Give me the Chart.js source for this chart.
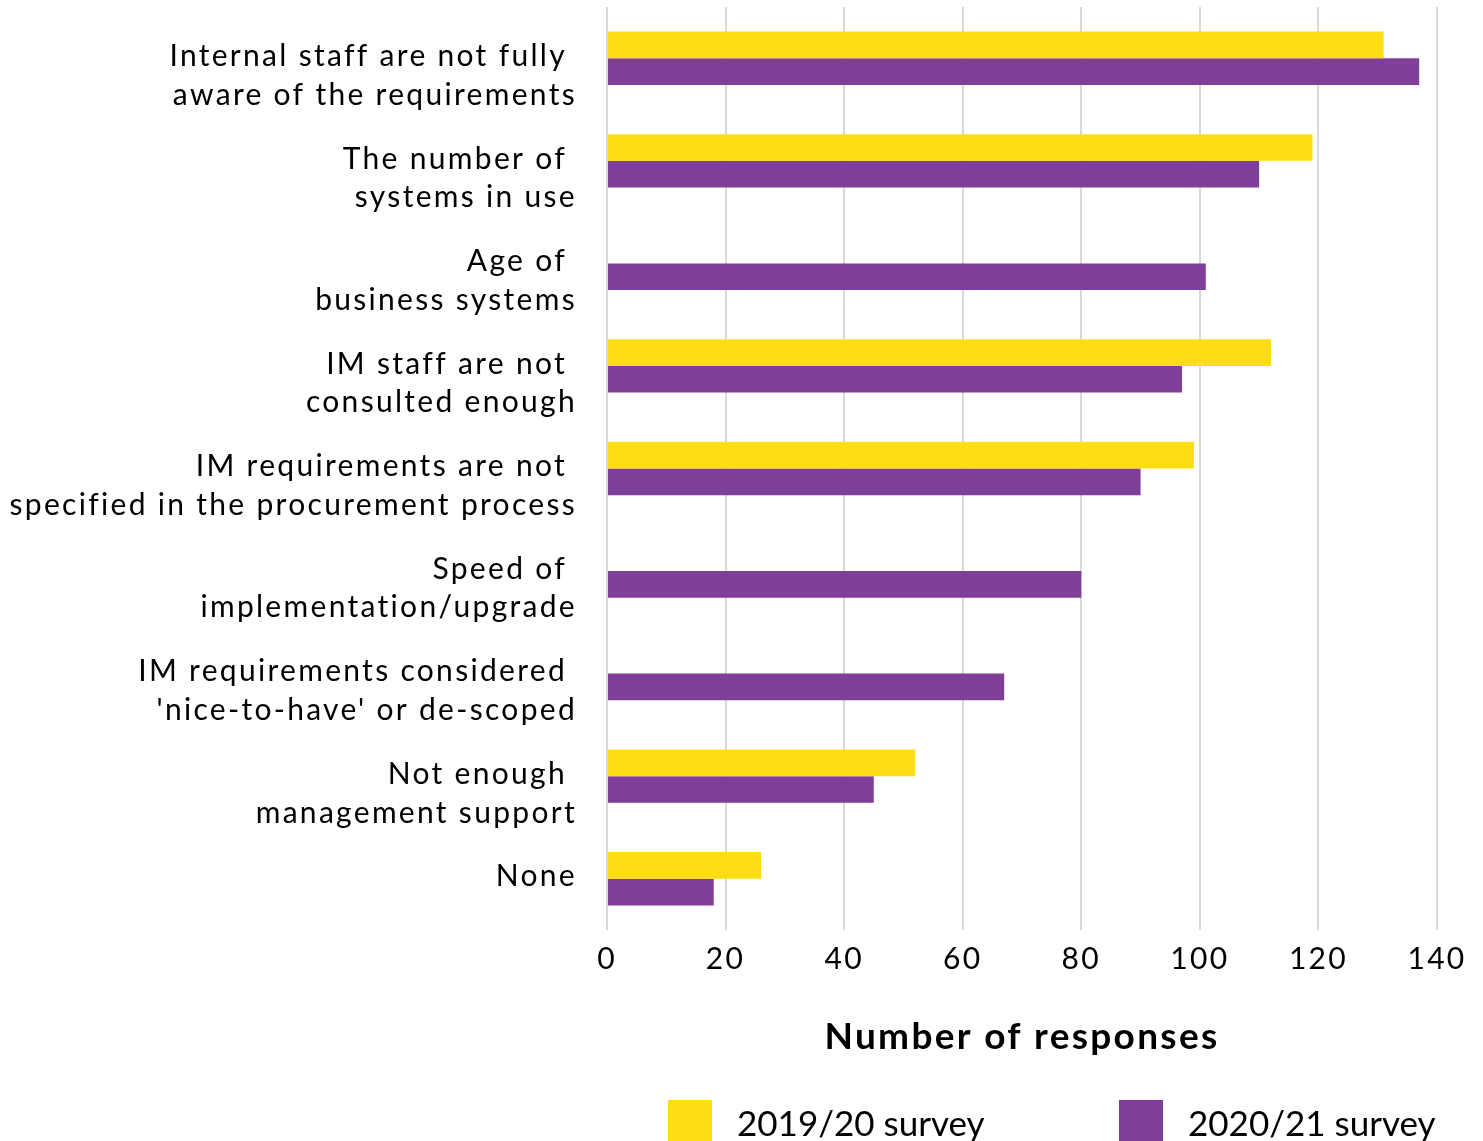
<!DOCTYPE html>
<html>
<head>
<meta charset="utf-8">
<title>Barriers to meeting IM requirements</title>
<script src="https://cdn.jsdelivr.net/npm/chart.js@4/dist/chart.umd.min.js"></script>
<style>
  html, body { margin: 0; padding: 0; background: #ffffff; overflow: hidden; }
  #wrap { width: 1483px; height: 1141px; position: relative; }
</style>
</head>
<body>
<div id="wrap"><canvas id="chart" width="1483" height="1141"></canvas></div>
<script>
// Response categories (first line carries a trailing space, as set in the source layout)
const categories = [
  ["", "Internal staff are not fully ", "aware of the requirements"],
  ["", "The number of ", "systems in use"],
  ["", "Age of ", "business systems"],
  ["", "IM staff are not ", "consulted enough"],
  ["", "IM requirements are not ", "specified in the procurement process"],
  ["", "Speed of ", "implementation/upgrade"],
  ["", "IM requirements considered ", "'nice-to-have' or de-scoped"],
  ["", "Not enough ", "management support"],
  ["None"]
];

const seriesNames = ["2019/20 survey", "2020/21 survey"];
const survey2019 = [131, 119, null, 112, 99, null, null, 52, 26];
const survey2020 = [137, 110, 101, 97, 90, 80, 67, 45, 18];

const xTicks = [0, 20, 40, 60, 80, 100, 120, 140];
const axisTitle = "Number of responses";

const YELLOW = "#FFDD15";
const PURPLE = "#7F3F98";
const FONT = "Lato, 'Open Sans', sans-serif";

// Slightly open tracking for the axis text
const tracking = {
  id: "tracking",
  beforeDraw(chart, args, opts) { chart.ctx.letterSpacing = opts.spacing; },
  afterDraw(chart) { chart.ctx.letterSpacing = "0px"; }
};

// Legend drawn underneath the axis title, two widely spaced entries
const bottomLegend = {
  id: "bottomLegend",
  afterDraw(chart, args, opts) {
    const ctx = chart.ctx;
    const left = chart.chartArea.left;
    ctx.save();
    ctx.letterSpacing = "0px";
    chart.data.datasets.forEach((ds, i) => {
      const bx = left + opts.offsets[i];
      ctx.fillStyle = ds.backgroundColor;
      ctx.fillRect(bx, opts.top, opts.box, opts.box);
      ctx.fillStyle = "#000000";
      ctx.font = opts.size + "px " + FONT;
      ctx.textAlign = "left";
      ctx.textBaseline = "alphabetic";
      ctx.fillText(ds.label, bx + opts.box + opts.gap, opts.baseline);
    });
    ctx.restore();
  }
};

new Chart(document.getElementById("chart"), {
  type: "bar",
  data: {
    labels: categories,
    datasets: [
      { label: seriesNames[0], data: survey2019, backgroundColor: YELLOW },
      { label: seriesNames[1], data: survey2020, backgroundColor: PURPLE }
    ]
  },
  options: {
    indexAxis: "y",
    responsive: false,
    devicePixelRatio: 1,
    animation: false,
    datasets: { bar: { categoryPercentage: 0.52, barPercentage: 1.0 } },
    layout: { padding: { top: 7, right: 46, bottom: 0, left: 0 } },
    plugins: {
      legend: { display: false },
      tooltip: { enabled: false },
      tracking: { spacing: "2.3px" },
      bottomLegend: { offsets: [61, 512], top: 1100, box: 44, gap: 25, baseline: 1136, size: 35 }
    },
    scales: {
      x: {
        min: 0,
        max: 140,
        afterBuildTicks: (scale) => { scale.ticks = xTicks.map(v => ({ value: v })); },
        afterFit: (scale) => { scale.height = 211; },
        border: { display: false },
        grid: { color: "#d9d9d9", lineWidth: 2, drawTicks: false },
        ticks: { color: "#000000", padding: 11, font: { family: FONT, size: 30 } },
        title: {
          display: true,
          text: axisTitle,
          color: "#000000",
          font: { family: FONT, size: 37, weight: "bold" },
          padding: { top: 0, bottom: 82 }
        }
      },
      y: {
        afterFit: (scale) => {
          scale.width = 607;
          scale.paddingTop = 0;
          scale.paddingBottom = 0;
        },
        border: { display: false },
        grid: { display: false, drawTicks: false },
        ticks: {
          autoSkip: false,
          color: "#000000",
          padding: 30,
          labelOffset: -2,
          font: { family: FONT, size: 30, lineHeight: 1.29 }
        }
      }
    }
  },
  plugins: [tracking, bottomLegend]
});
</script>
</body>
</html>
